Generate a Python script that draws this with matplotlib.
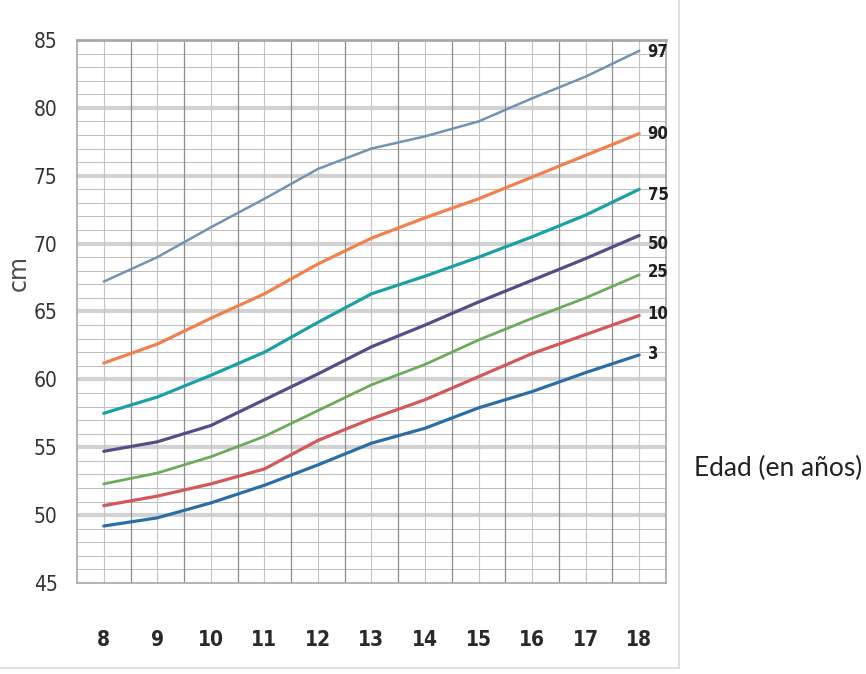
import matplotlib
matplotlib.use("Agg")
import matplotlib.pyplot as plt
import numpy as np
from matplotlib.lines import Line2D

ages = [8, 9, 10, 11, 12, 13, 14, 15, 16, 17, 18]
p97 = [67.2, 69.0, 71.2, 73.3, 75.5, 77.0, 77.9, 79.0, 80.7, 82.3, 84.2]
p90 = [61.2, 62.6, 64.5, 66.3, 68.5, 70.4, 71.9, 73.3, 74.9, 76.5, 78.1]
p75 = [57.5, 58.7, 60.3, 62.0, 64.2, 66.3, 67.6, 69.0, 70.5, 72.1, 74.0]
p50 = [54.7, 55.4, 56.6, 58.5, 60.4, 62.4, 64.0, 65.7, 67.3, 68.9, 70.6]
p25 = [52.3, 53.1, 54.3, 55.8, 57.7, 59.6, 61.1, 62.9, 64.5, 66.0, 67.7]
p10 = [50.7, 51.4, 52.3, 53.4, 55.5, 57.1, 58.5, 60.2, 61.9, 63.3, 64.7]
p3 = [49.2, 49.8, 50.9, 52.2, 53.7, 55.3, 56.4, 57.9, 59.1, 60.5, 61.8]
series_labels = ["97", "90", "75", "50", "25", "10", "3"]
y_ticks = [45, 50, 55, 60, 65, 70, 75, 80, 85]
x_label = "Edad (en años)"
y_label = "cm"

series = [p97, p90, p75, p50, p25, p10, p3]
colors = ["#7393b3", "#f0814c", "#1c9fa5", "#5b4a88", "#6cab5a", "#d2585a", "#2b6ea6"]
widths = [1.8, 2.3, 2.3, 2.3, 2.0, 2.3, 2.3]
label_dy = [-1, 0, -4, -6, 2, 1, 1]

narrow = ["Liberation Sans Narrow", "DejaVu Sans"]

fig = plt.figure(figsize=(8.66, 6.74), dpi=100)
ax = fig.add_axes([0.0889, 0.135, 0.6801, 0.8057])
ax.set_xlim(7.5, 18.5)
ax.set_ylim(45, 85)

for v in np.arange(46, 85, 1):
    if v % 5 == 0:
        ax.axhline(v, color="#d2d2d2", lw=3.0, zorder=1)
    else:
        ax.axhline(v, color="#bcbcbc", lw=0.7, zorder=1)
for a in np.arange(8, 18.51, 0.5):
    if a % 1 == 0:
        ax.axvline(a, color="#c4c4c4", lw=0.8, zorder=1)
    else:
        ax.axvline(a, color="#8c8c8c", lw=0.9, zorder=1)

for vals, col, lw, lab, dy in zip(series, colors, widths, series_labels, label_dy):
    ax.plot(ages, vals, color=col, lw=lw, zorder=3, solid_capstyle="round")
    ax.annotate(lab, xy=(ages[-1], vals[-1]), xytext=(6, dy), textcoords="offset points",
                ha="left", va="center", fontsize=12, fontweight="bold",
                family=narrow, stretch="condensed", color="#1e1e1e", annotation_clip=False)

for s in ax.spines.values():
    s.set_color("#a8a8a8")
    s.set_linewidth(1.2)
ax.spines["top"].set_linewidth(2.0)

ax.set_xticks(ages)
ax.set_xticklabels([str(a) for a in ages], family=narrow, stretch="condensed",
                   fontsize=15, fontweight="bold", color="#2a2a2a")
ax.set_yticks(y_ticks)
ax.set_yticklabels([str(v) for v in y_ticks], family=narrow, stretch="condensed",
                   fontsize=15, color="#333333")
ax.tick_params(axis="both", length=0)
ax.tick_params(axis="x", pad=34)
ax.tick_params(axis="y", pad=14)

fig.text(0.022, 0.595, y_label, rotation=90, ha="center", va="center",
         fontsize=17, color="#4a4a4a", family=["DejaVu Sans"])
fig.text(0.898, 0.305, x_label, ha="center", va="center", fontsize=19,
         color="#222222", family=["Lato", "DejaVu Sans"])

fig.add_artist(Line2D([679/866, 679/866], [1 - 668/674, 1.0], transform=fig.transFigure,
                      color="#dadada", lw=1.2))
fig.add_artist(Line2D([0, 679/866], [1 - 668/674, 1 - 668/674], transform=fig.transFigure,
                      color="#dadada", lw=1.2))

fig.savefig("out.png", dpi=100, facecolor="white")
